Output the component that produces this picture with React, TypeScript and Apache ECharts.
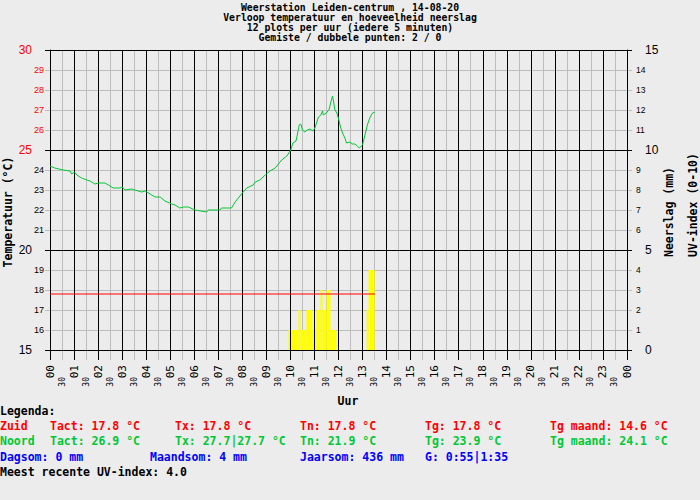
import React, { useEffect, useRef } from 'react';
import * as echarts from 'echarts';

const titleLines = [
  'Weerstation Leiden-centrum , 14-08-20',
  'Verloop temperatuur en hoeveelheid neerslag',
  '12 plots per uur (iedere 5 minuten)',
  'Gemiste / dubbele punten: 2 / 0',
];

const hourLabels = ['00','01','02','03','04','05','06','07','08','09','10','11','12','13','14','15','16','17','18','19','20','21','22','23','00'];

const tempTimes = [
  '0:00','0:12','0:33','0:50','0:54','1:01','1:07','1:19','1:32','1:40','1:52',
  '2:01','2:17','2:26','2:38','2:55','3:00','3:07','3:24','3:40','3:49','3:57',
  '4:10','4:22','4:35','4:47','5:04','5:12','5:24','5:33','5:45','6:02','6:31',
  '6:35','7:04','7:08','7:33','7:42','7:58','8:11','8:27','8:32','8:44','8:57',
  '9:09','9:22','9:34','9:38','9:51','10:01','10:06','10:14','10:17','10:22','10:26',
  '10:30','10:36','10:42','10:49','10:56','11:01','11:06','11:10','11:16','11:20','11:22',
  '11:30','11:37','11:41','11:45','11:47','11:51','11:56','12:01','12:05','12:10','12:16',
  '12:20','12:29','12:33','12:41','12:47','12:52','13:00','13:06','13:12','13:19','13:25','13:31',
];
const tempNoord = [
  24.2,24.1,24.0,23.95,23.8,23.9,23.75,23.6,23.5,23.45,23.3,
  23.35,23.35,23.25,23.1,23.1,23.15,23.0,23.05,22.95,22.9,22.95,
  22.8,22.65,22.65,22.45,22.3,22.25,22.1,22.15,22.15,22.0,21.9,
  22.0,22.0,22.1,22.1,22.4,22.8,23.1,23.25,23.4,23.5,23.75,
  23.95,24.1,24.4,24.5,24.7,25.0,25.35,25.45,25.75,26.25,26.3,
  26.0,25.9,26.0,26.05,25.95,26.1,26.4,26.65,26.75,26.95,26.75,
  26.85,27.05,27.4,27.7,27.5,27.0,26.85,26.5,26.15,25.85,25.6,
  25.35,25.4,25.3,25.3,25.2,25.1,25.25,25.75,26.25,26.65,26.85,26.9,
];

const zuidTimes = ['0:00', '13:31'];
const tempZuid = [17.8, 17.8];

const rainStart = ['9:55','10:20','10:25','10:40','10:55','11:05','11:15','11:20','11:30','11:40','13:10','13:15'];
const rainEnd   = ['10:20','10:25','10:40','10:55','11:05','11:15','11:20','11:30','11:40','11:55','13:15','13:30'];
const rainValues = [1,2,1,2,1,2,3,2,3,1,2,4];

const legendRows = [
  { y: 411, items: [{ x: 0, t: 'Legenda:', c: '#000000' }] },
  { y: 426, items: [
    { x: 0, t: 'Zuid', c: '#ff0000' },
    { x: 50, t: 'Tact: 17.8 °C', c: '#ff0000' },
    { x: 175, t: 'Tx: 17.8 °C', c: '#ff0000' },
    { x: 300, t: 'Tn: 17.8 °C', c: '#ff0000' },
    { x: 425, t: 'Tg: 17.8 °C', c: '#ff0000' },
    { x: 550, t: 'Tg maand: 14.6 °C', c: '#ff0000' },
  ] },
  { y: 441, items: [
    { x: 0, t: 'Noord', c: '#00c832' },
    { x: 50, t: 'Tact: 26.9 °C', c: '#00c832' },
    { x: 175, t: 'Tx: 27.7|27.7 °C', c: '#00c832' },
    { x: 300, t: 'Tn: 21.9 °C', c: '#00c832' },
    { x: 425, t: 'Tg: 23.9 °C', c: '#00c832' },
    { x: 550, t: 'Tg maand: 24.1 °C', c: '#00c832' },
  ] },
  { y: 457, items: [
    { x: 0, t: 'Dagsom: 0 mm', c: '#0000ff' },
    { x: 150, t: 'Maandsom: 4 mm', c: '#0000ff' },
    { x: 300, t: 'Jaarsom: 436 mm', c: '#0000ff' },
    { x: 425, t: 'G: 0:55|1:35', c: '#0000ff' },
  ] },
  { y: 472, items: [{ x: 0, t: 'Meest recente UV-index: 4.0', c: '#000000' }] },
];

const toMin = (t: string) => {
  const [h, m] = t.split(':').map(Number);
  return h * 60 + m;
};

const MONO = '"DejaVu Sans Mono", monospace';
const SANS = '"Liberation Sans", Arial, sans-serif';
const GREEN = '#00c832';

export default function App() {
  const ref = useRef<HTMLDivElement>(null);
  useEffect(() => {
    document.body.style.margin = '0';
    const chart = echarts.init(ref.current!, null, { renderer: 'svg' });

    const graphic: any[] = [
      {
        type: 'text', x: 8, y: 212, rotation: Math.PI / 2, z: 10,
        style: { text: 'Temperatuur (°C)', fontFamily: MONO, fontWeight: 'bold', fontSize: 11.5, textAlign: 'center', textVerticalAlign: 'middle', fill: '#000' },
      },
      {
        type: 'text', x: 669, y: 212, rotation: Math.PI / 2, z: 10,
        style: { text: 'Neerslag (mm)', fontFamily: MONO, fontWeight: 'bold', fontSize: 11.5, textAlign: 'center', textVerticalAlign: 'middle', fill: '#000' },
      },
      {
        type: 'text', x: 693, y: 205, rotation: Math.PI / 2, z: 10,
        style: { text: 'UV-index (0-10)', fontFamily: MONO, fontWeight: 'bold', fontSize: 11.5, textAlign: 'center', textVerticalAlign: 'middle', fill: '#000' },
      },
      {
        type: 'text', x: 348, y: 401, z: 10,
        style: { text: 'Uur', fontFamily: MONO, fontWeight: 'bold', fontSize: 11.5, textAlign: 'center', textVerticalAlign: 'middle', fill: '#000' },
      },
    ];
    titleLines.forEach((line, i) => {
      graphic.push({
        type: 'text', x: 350, y: 7.5 + i * 10, z: 10,
        style: {
          text: line, fontFamily: MONO, fontWeight: 'bold', fontSize: 9.8,
          textAlign: 'center', textVerticalAlign: 'middle', fill: '#000',
        },
      });
    });
    legendRows.forEach((row) => {
      row.items.forEach((it) => {
        graphic.push({
          type: 'text', x: it.x, y: row.y, z: 10,
          style: { text: it.t, fontFamily: MONO, fontWeight: 'bold', fontSize: 11.5, textAlign: 'left', textVerticalAlign: 'middle', fill: it.c },
        });
      });
    });

    const leftFmt = (v: number) => {
      if (v % 5 === 0) return v >= 25 ? `{br|${v}}` : `{bk|${v}}`;
      return v > 25 ? `{sr|${v}}` : `{sk|${v}}`;
    };
    const rightFmt = (v: number) => (v % 5 === 0 ? `{b|${v}}` : `{s|${v}}`);

    const option: any = {
      animation: false,
      backgroundColor: '#ececec',
      grid: { left: 50, right: 73, top: 50, bottom: 150, containLabel: false },
      graphic,
      xAxis: [
        {
          type: 'value', min: 0, max: 1440, interval: 60, position: 'bottom', z: 3,
          axisLine: { show: true, onZero: false, lineStyle: { color: '#000', width: 1 } },
          axisTick: { show: true, length: 10, lineStyle: { color: '#000', width: 1 } },
          splitLine: { show: true, lineStyle: { color: '#000', width: 1 } },
          axisLabel: {
            show: true, rotate: 90, margin: 15, fontFamily: MONO, fontSize: 11, color: '#000',
            formatter: (v: number) => hourLabels[Math.round(v / 60)],
          },
        },
        {
          type: 'value', min: 0, max: 1440, interval: 30, position: 'bottom', z: 0,
          axisLine: { show: false },
          axisTick: { show: true, length: 10, lineStyle: { color: '#bdbdbd', width: 1 } },
          splitLine: { show: true, lineStyle: { color: '#bdbdbd', width: 1 } },
          axisLabel: {
            show: true, rotate: 90, margin: 27, fontFamily: MONO, fontSize: 8, color: '#000',
            formatter: (v: number) => (v % 60 === 30 ? '30' : ''),
          },
        },
      ],
      yAxis: [
        {
          type: 'value', min: 15, max: 30, interval: 5, position: 'left', z: 3,
          axisLine: { show: true, lineStyle: { color: '#000', width: 1 } },
          axisTick: { show: true, length: 5, lineStyle: { color: '#000', width: 1 } },
          splitLine: { show: true, lineStyle: { color: '#000', width: 1 } },
          axisLabel: { show: false },
        },
        {
          type: 'value', min: 15, max: 30, interval: 1, position: 'left', z: 0,
          axisLine: { show: false },
          axisTick: { show: true, length: 5, lineStyle: { color: '#bdbdbd', width: 1 } },
          splitLine: { show: true, lineStyle: { color: '#bdbdbd', width: 1 } },
          axisLabel: {
            show: true, margin: 6, formatter: leftFmt,
            rich: {
              br: { color: '#ff0000', fontSize: 12, fontFamily: SANS, padding: [0, 12, 0, 0] },
              bk: { color: '#000000', fontSize: 12, fontFamily: SANS, padding: [0, 12, 0, 0] },
              sr: { color: '#ff0000', fontSize: 9, fontFamily: SANS },
              sk: { color: '#000000', fontSize: 9, fontFamily: SANS },
            },
          },
        },
        {
          type: 'value', min: 0, max: 15, interval: 5, position: 'right', z: 3,
          axisLine: { show: true, lineStyle: { color: '#000', width: 1 } },
          axisTick: { show: true, length: 5, lineStyle: { color: '#000', width: 1 } },
          splitLine: { show: false },
          axisLabel: { show: false },
        },
        {
          type: 'value', min: 0, max: 15, interval: 1, position: 'right', z: 0,
          axisLine: { show: false },
          axisTick: { show: true, length: 5, lineStyle: { color: '#bdbdbd', width: 1 } },
          splitLine: { show: false },
          axisLabel: {
            show: true, margin: 9, formatter: rightFmt,
            rich: {
              b: { color: '#000', fontSize: 12, fontFamily: SANS, padding: [0, 0, 0, 9] },
              s: { color: '#000', fontSize: 8.5, fontFamily: SANS },
            },
          },
        },
      ],
      series: [
        {
          type: 'custom', xAxisIndex: 0, yAxisIndex: 2, z: 1,
          encode: { x: [0, 1], y: 2 },
          data: rainValues.map((v, i) => [toMin(rainStart[i]), toMin(rainEnd[i]), v]),
          renderItem: (params: any, api: any) => {
            const p0 = api.coord([api.value(0), api.value(2)]);
            const p1 = api.coord([api.value(1), 0]);
            return {
              type: 'rect',
              shape: { x: p0[0], y: p0[1], width: p1[0] - p0[0], height: p1[1] - p0[1] },
              style: { fill: '#ffff00', stroke: null },
            };
          },
        },
        {
          type: 'line', xAxisIndex: 0, yAxisIndex: 0, z: 5, showSymbol: false, silent: true,
          lineStyle: { color: '#ff0000', width: 1 },
          data: zuidTimes.map((t, i) => [toMin(t), tempZuid[i]]),
        },
        {
          type: 'line', xAxisIndex: 0, yAxisIndex: 0, z: 5, showSymbol: false, silent: true,
          lineStyle: { color: GREEN, width: 1 },
          data: tempTimes.map((t, i) => [toMin(t), tempNoord[i]]),
        },
      ],
    };
    chart.setOption(option);
    return () => chart.dispose();
  }, []);
  return (
    <div
      ref={ref}
      style={{ position: 'absolute', left: 0, top: 0, width: 700, height: 500, background: '#ececec' }}
    />
  );
}
